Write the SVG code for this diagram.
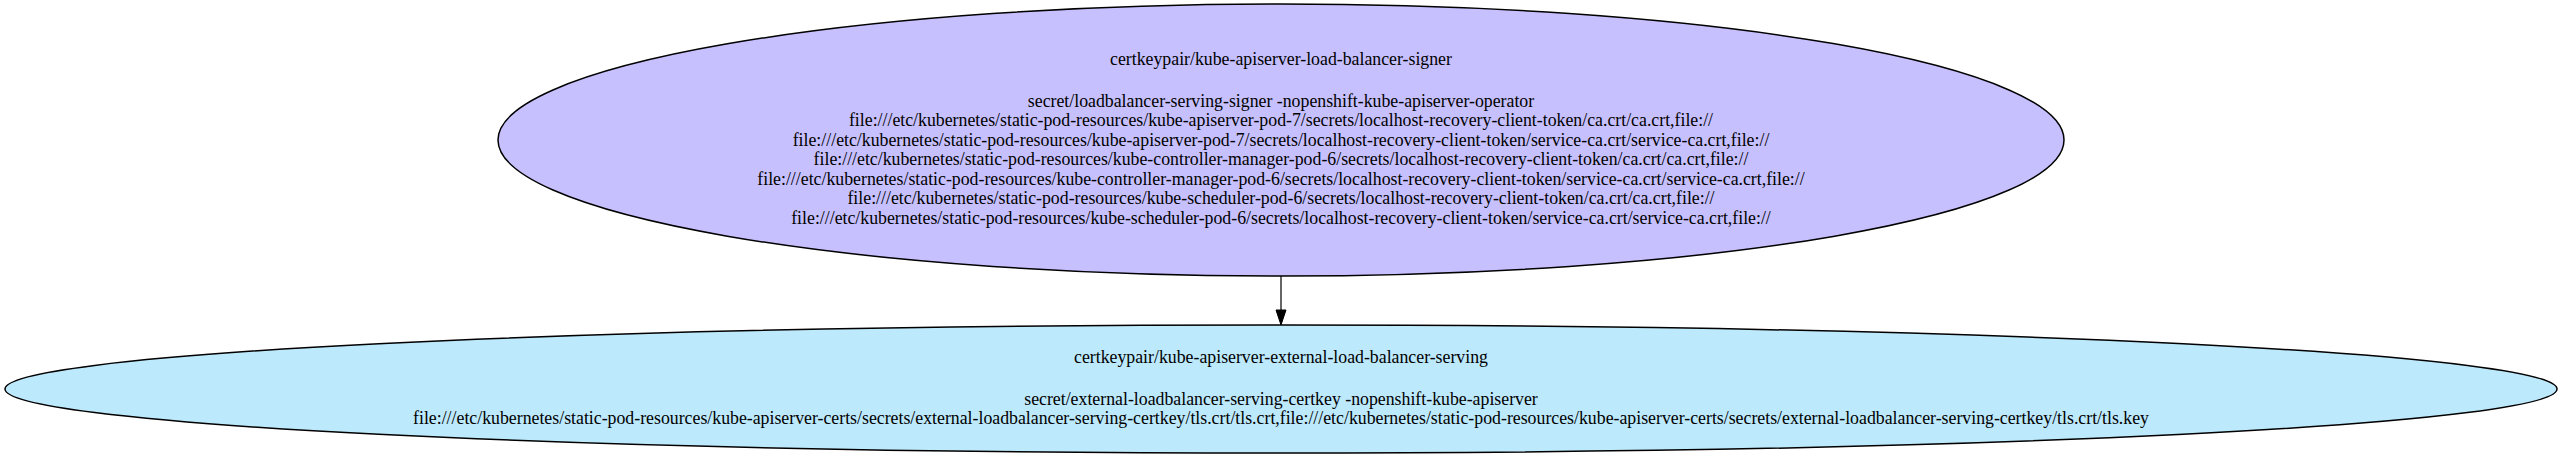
<svg xmlns="http://www.w3.org/2000/svg" width="2562" height="460" viewBox="0 0 2562 460">
<style>
.lbl{font-family:"Liberation Serif","Times New Roman",serif;font-size:17.8px;fill:#000;text-anchor:middle}
.node ellipse{stroke:#000;stroke-width:1.5}
.edge{stroke:#333;stroke-width:1.5;fill:none}
</style>
<rect width="2562" height="460" fill="#fff"/>
<g id="connectors">
<line class="edge" x1="1281" y1="276" x2="1281" y2="310"/>
<path d="M1276,310 L1286,310 L1281,325 Z" fill="#000" stroke="#000" stroke-width="1"/>
</g>
<g id="node-signer" class="node">
<ellipse cx="1281" cy="140" rx="783" ry="136" fill="#c7c0ff"/>
<text class="lbl" x="1281" y="64.5">certkeypair/kube-apiserver-load-balancer-signer</text>
<text class="lbl" x="1281" y="106.7">secret/loadbalancer-serving-signer -nopenshift-kube-apiserver-operator</text>
<text class="lbl" x="1281" y="126.2">file:///etc/kubernetes/static-pod-resources/kube-apiserver-pod-7/secrets/localhost-recovery-client-token/ca.crt/ca.crt,file://</text>
<text class="lbl" x="1281" y="145.7">file:///etc/kubernetes/static-pod-resources/kube-apiserver-pod-7/secrets/localhost-recovery-client-token/service-ca.crt/service-ca.crt,file://</text>
<text class="lbl" x="1281" y="165.2">file:///etc/kubernetes/static-pod-resources/kube-controller-manager-pod-6/secrets/localhost-recovery-client-token/ca.crt/ca.crt,file://</text>
<text class="lbl" x="1281" y="184.7">file:///etc/kubernetes/static-pod-resources/kube-controller-manager-pod-6/secrets/localhost-recovery-client-token/service-ca.crt/service-ca.crt,file://</text>
<text class="lbl" x="1281" y="204.2">file:///etc/kubernetes/static-pod-resources/kube-scheduler-pod-6/secrets/localhost-recovery-client-token/ca.crt/ca.crt,file://</text>
<text class="lbl" x="1281" y="223.7">file:///etc/kubernetes/static-pod-resources/kube-scheduler-pod-6/secrets/localhost-recovery-client-token/service-ca.crt/service-ca.crt,file://</text>
</g>
<g id="node-serving" class="node">
<ellipse cx="1281" cy="389" rx="1276" ry="64" fill="#bde9fc"/>
<text class="lbl" x="1281" y="362.7">certkeypair/kube-apiserver-external-load-balancer-serving</text>
<text class="lbl" x="1281" y="405">secret/external-loadbalancer-serving-certkey -nopenshift-kube-apiserver</text>
<text class="lbl" x="1281" y="423.7">file:///etc/kubernetes/static-pod-resources/kube-apiserver-certs/secrets/external-loadbalancer-serving-certkey/tls.crt/tls.crt,file:///etc/kubernetes/static-pod-resources/kube-apiserver-certs/secrets/external-loadbalancer-serving-certkey/tls.crt/tls.key</text>
</g>
</svg>
